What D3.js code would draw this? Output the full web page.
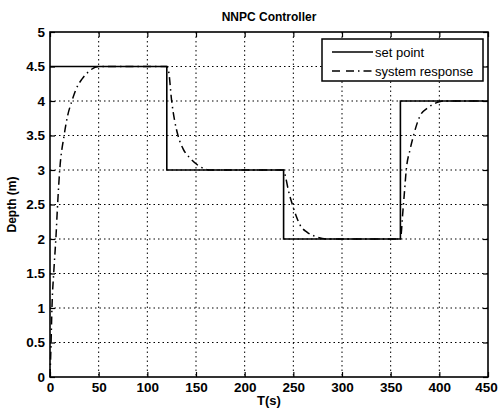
<!DOCTYPE html>
<html>
<head>
<meta charset="utf-8">
<script src="https://cdn.jsdelivr.net/npm/d3@7"></script>
<style>
  body { margin: 0; background: #fff; }
  svg { display: block; font-family: Arial, 'Liberation Sans', sans-serif; }
</style>
</head>
<body>
<div class="chart"></div>
<script>
// set point (piecewise constant)
const setTimes = [0, 120, 120, 240, 240, 360, 360, 450];
const setValues = [4.5, 4.5, 3, 3, 2, 2, 4, 4];

// system response
const respTimes = [0, 1, 2, 4, 6, 8, 10, 14.5, 18, 22.5, 27, 33, 40, 50, 120,
  122, 125, 128, 131.5, 137, 144, 154, 165, 240,
  242, 245, 249, 253, 257, 264, 272, 285, 360,
  361, 362, 364, 366, 370, 373.5, 380, 388, 398, 405, 450];
const respValues = [0, 0.45, 1, 1.55, 2, 2.55, 3, 3.5, 3.78, 4, 4.18, 4.32, 4.43, 4.5, 4.5,
  4.42, 4.0, 3.72, 3.5, 3.3, 3.17, 3.05, 3.0, 3.0,
  2.9, 2.7, 2.5, 2.33, 2.2, 2.1, 2.04, 2.0, 2.0,
  2.1, 2.3, 2.65, 3.0, 3.3, 3.5, 3.78, 3.9, 3.98, 4.0, 4.0];

const xTicks = [0, 50, 100, 150, 200, 250, 300, 350, 400, 450];
const yTicks = [0, 0.5, 1, 1.5, 2, 2.5, 3, 3.5, 4, 4.5, 5];
const legendLabels = ['set point', 'system response'];

const chartWidth = 498;
const chartHeight = 414;
const margin = { left: 50, right: 10, top: 32, bottom: 37 };
const width = chartWidth - margin.left - margin.right;
const height = chartHeight - margin.top - margin.bottom;

const root = d3.select('.chart')
  .append('svg')
  .attr('width', chartWidth)
  .attr('height', chartHeight);

const svg = root.append('g')
  .attr('transform', `translate(${margin.left}, ${margin.top})`);

const xScale = d3.scaleLinear().domain([0, 450]).range([0, width]);
const yScale = d3.scaleLinear().domain([0, 5]).range([height, 0]);

// dotted grid
svg.append('g')
  .selectAll('line')
  .data(xTicks.slice(1, -1))
  .enter()
  .append('line')
  .attr('x1', d => xScale(d)).attr('x2', d => xScale(d))
  .attr('y1', 0).attr('y2', height)
  .attr('stroke', '#000').attr('stroke-width', 1)
  .attr('stroke-dasharray', '1.5,3');

svg.append('g')
  .selectAll('line')
  .data(yTicks.slice(1, -1))
  .enter()
  .append('line')
  .attr('x1', 0).attr('x2', width)
  .attr('y1', d => yScale(d)).attr('y2', d => yScale(d))
  .attr('stroke', '#000').attr('stroke-width', 1)
  .attr('stroke-dasharray', '1.5,3');

// axes (ticks inside, MATLAB style)
const styleAxis = g => {
  g.select('.domain').remove();
  g.selectAll('.tick line').attr('stroke', '#000').attr('stroke-width', 1.2);
  g.selectAll('.tick text')
    .attr('font-size', '13.5px')
    .attr('font-weight', 'bold')
    .attr('fill', '#000');
};

svg.append('g')
  .attr('transform', `translate(0, ${height})`)
  .call(d3.axisBottom(xScale).tickValues(xTicks).tickSize(-5).tickPadding(5).tickFormat(d3.format('d')))
  .call(styleAxis)
  .selectAll('.tick text')
  .attr('dx', d => d === 450 ? -2 : 0);

svg.append('g')
  .call(d3.axisLeft(yScale).tickValues(yTicks).tickSize(-5).tickPadding(5).tickFormat(d => d))
  .call(styleAxis);

svg.append('g')
  .call(d3.axisTop(xScale).tickValues(xTicks).tickSize(-5).tickFormat(''))
  .call(styleAxis);

svg.append('g')
  .attr('transform', `translate(${width}, 0)`)
  .call(d3.axisRight(yScale).tickValues(yTicks).tickSize(-5).tickFormat(''))
  .call(styleAxis);

// box
svg.append('rect')
  .attr('width', width)
  .attr('height', height)
  .attr('fill', 'none')
  .attr('stroke', '#000')
  .attr('stroke-width', 1.6);

const line = d3.line()
  .x(d => xScale(d[0]))
  .y(d => yScale(d[1]));

svg.append('path')
  .datum(d3.zip(setTimes, setValues))
  .attr('d', line)
  .attr('fill', 'none')
  .attr('stroke', '#000')
  .attr('stroke-width', 1.6);

svg.append('path')
  .datum(d3.zip(respTimes, respValues))
  .attr('d', line.curve(d3.curveMonotoneX))
  .attr('fill', 'none')
  .attr('stroke', '#000')
  .attr('stroke-width', 1.5)
  .attr('stroke-dasharray', '8,4,1.5,4');

// legend
const legend = svg.append('g')
  .attr('transform', `translate(${322 - margin.left}, ${39 - margin.top})`);

legend.append('rect')
  .attr('width', 161)
  .attr('height', 42)
  .attr('fill', '#fff')
  .attr('stroke', '#000')
  .attr('stroke-width', 1.5);

legend.selectAll('line')
  .data(legendLabels)
  .enter()
  .append('line')
  .attr('x1', 10).attr('x2', 51)
  .attr('y1', (d, i) => 13 + i * 19).attr('y2', (d, i) => 13 + i * 19)
  .attr('stroke', '#000')
  .attr('stroke-width', 1.5)
  .attr('stroke-dasharray', (d, i) => i === 0 ? null : '8,6,8,4,1.5,4');

legend.selectAll('text')
  .data(legendLabels)
  .enter()
  .append('text')
  .attr('x', 53)
  .attr('y', (d, i) => 13 + i * 19)
  .attr('dy', '0.35em')
  .attr('font-size', '13px')
  .text(d => d);

// title and axis labels
root.append('text')
  .attr('x', margin.left + width / 2)
  .attr('y', 21)
  .attr('text-anchor', 'middle')
  .attr('font-size', '12px')
  .attr('font-weight', 'bold')
  .text('NNPC Controller');

root.append('text')
  .attr('x', margin.left + width / 2)
  .attr('y', 405)
  .attr('text-anchor', 'middle')
  .attr('font-size', '13px')
  .attr('font-weight', 'bold')
  .text('T(s)');

root.append('text')
  .attr('transform', `translate(16, ${margin.top + height / 2}) rotate(-90)`)
  .attr('text-anchor', 'middle')
  .attr('font-size', '12px')
  .attr('font-weight', 'bold')
  .text('Depth (m)');
</script>
</body>
</html>
